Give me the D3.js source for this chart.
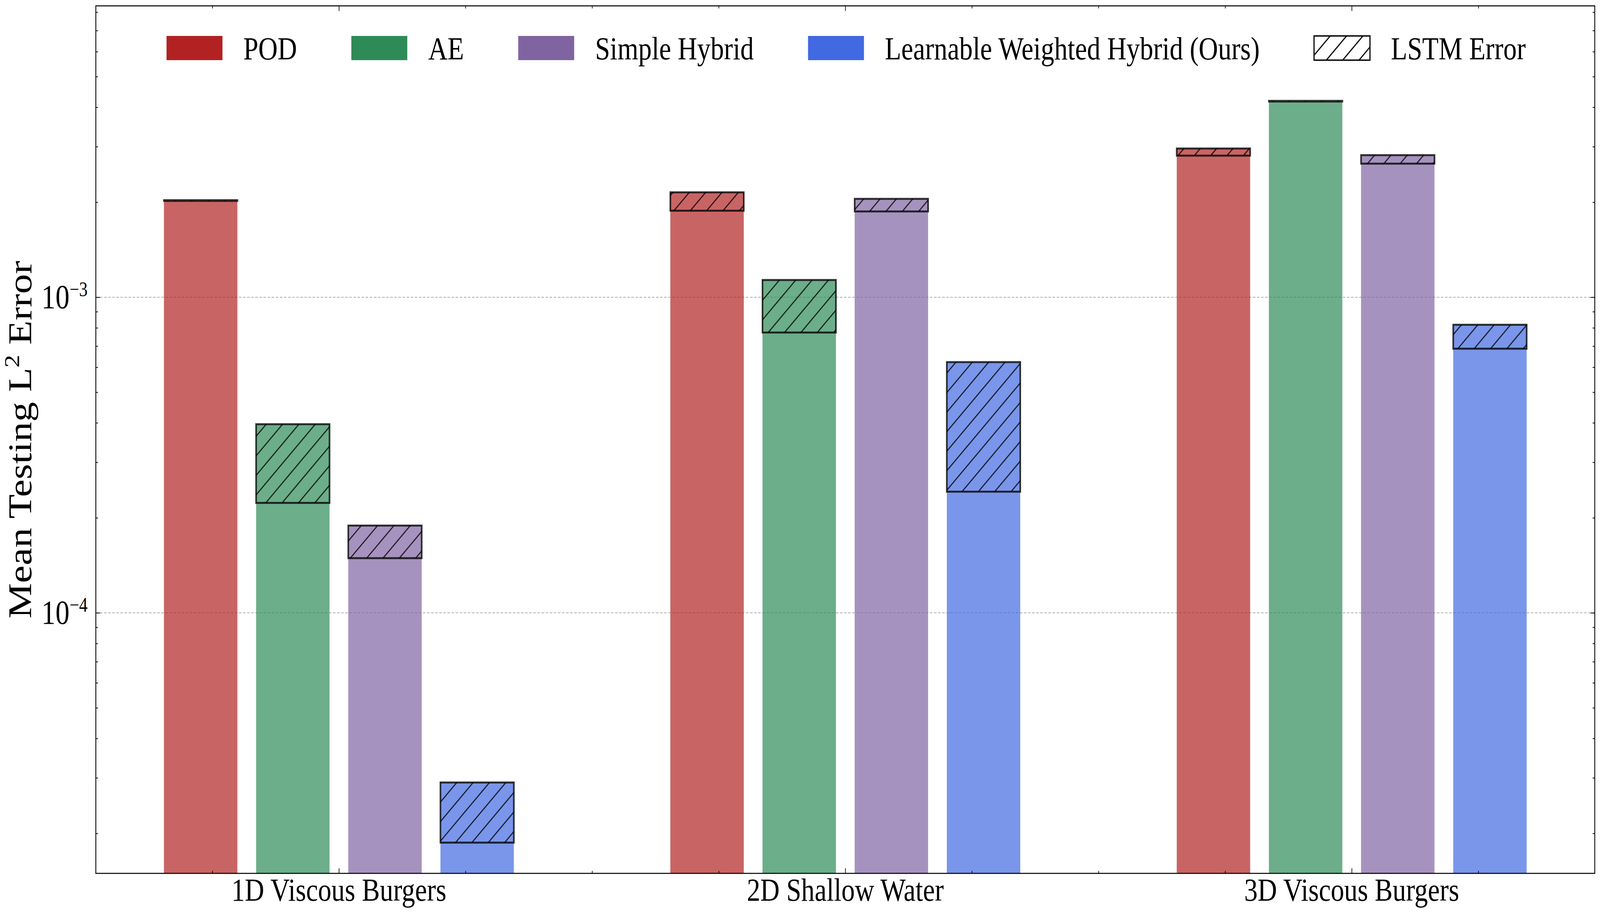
<!DOCTYPE html>
<html><head><meta charset="utf-8">
<script src="https://cdn.jsdelivr.net/npm/d3@7"></script>
<style>
html,body{margin:0;padding:0;background:#fff;overflow:hidden}
svg{display:block;width:100vw;height:100vh}
text{font-family:"Liberation Serif","DejaVu Serif",serif;fill:#000}
</style>
</head><body>
<svg id="chart" viewBox="0 0 4892 2340" preserveAspectRatio="none"></svg>
<script>
// ---------------- data ----------------
const categories = ["1D Viscous Burgers", "2D Shallow Water", "3D Viscous Burgers"];
const methods = ["POD", "AE", "Simple Hybrid", "Learnable Weighted Hybrid (Ours)"];
const methodColors = ["#b22222", "#2e8b57", "#8064a2", "#4169e1"];
// error without LSTM (solid part) and with LSTM (top of hatched part)
const podBase     = [2.02e-3, 1.88e-3, 2.81e-3];
const podTotal    = [2.03e-3, 2.15e-3, 2.96e-3];
const aeBase      = [2.23e-4, 7.73e-4, 4.17e-3];
const aeTotal     = [3.96e-4, 1.134e-3, 4.19e-3];
const simpleBase  = [1.49e-4, 1.87e-3, 2.65e-3];
const simpleTotal = [1.89e-4, 2.05e-3, 2.82e-3];
const lwhBase     = [1.87e-5, 2.42e-4, 6.87e-4];
const lwhTotal    = [2.90e-5, 6.23e-4, 8.18e-4];
const lstmLabel = "LSTM Error";
const yLimits = [1.494e-5, 8.38e-3];
const xLimits = [-0.48, 2.48];
const yMajorTicks = [1e-4, 1e-3];
const yMajorExponents = ["\u22124", "\u22123"];
const yMinorMantissas = [2, 3, 4, 5, 6, 7, 8, 9];
const yDecades = [1e-5, 1e-4, 1e-3];
const xMinorTicks = [-0.25, 0.25, 0.5, 0.75, 1.25, 1.5, 1.75, 2.25];

const baseSeries = [podBase, aeBase, simpleBase, lwhBase];
const totalSeries = [podTotal, aeTotal, simpleTotal, lwhTotal];

// ---------------- layout ----------------
const plot = {left: 293, right: 4876, top: 15, bottom: 2236};
const barWidth = 0.145, barStep = 0.182;
const FONT_TICK = 86, FONT_SUP = 52, FONT_X = 82, FONT_LEG = 82, FONT_YLAB = 102;

const svg = d3.select("#chart");
const x = d3.scaleLinear().domain(xLimits).range([plot.left, plot.right]);
const y = d3.scaleLog().domain(yLimits).range([plot.bottom, plot.top]);

const defs = svg.append("defs");
function hatchPattern(id, opacity, width) {
  const p = defs.append("pattern").attr("id", id)
    .attr("patternUnits", "userSpaceOnUse").attr("width", 50).attr("height", 50);
  p.append("path").attr("d", "M-10,60 L60,-10 M-10,10 L10,-10 M40,60 L60,40")
    .attr("stroke", "#000").attr("stroke-opacity", opacity)
    .attr("stroke-width", width).attr("fill", "none");
}
hatchPattern("hatch", 0.8, 3.2);
hatchPattern("hatchLeg", 1, 3.2);
defs.append("clipPath").attr("id", "plotClip").append("rect")
  .attr("x", plot.left).attr("y", plot.top)
  .attr("width", plot.right - plot.left).attr("height", plot.bottom - plot.top);

// gridlines
svg.append("g").selectAll("line").data(yMajorTicks).join("line")
  .attr("x1", plot.left).attr("x2", plot.right)
  .attr("y1", d => y(d)).attr("y2", d => y(d))
  .attr("stroke", "#b0b0b0").attr("stroke-width", 2)
  .attr("stroke-dasharray", "8,4.5");

// bars
const bars = svg.append("g").attr("clip-path", "url(#plotClip)");
methods.forEach((m, i) => {
  const offset = (i - 1.5) * barStep;
  categories.forEach((c, g) => {
    const x0 = x(g + offset - barWidth / 2);
    const w = x(g + offset + barWidth / 2) - x0;
    const yb = y(baseSeries[i][g]);
    const yt = y(totalSeries[i][g]);
    bars.append("rect").attr("x", x0).attr("y", yb).attr("width", w)
      .attr("height", plot.bottom - yb)
      .attr("fill", methodColors[i]).attr("fill-opacity", 0.7);
    const h = Math.max(yb - yt, 0.6);
    bars.append("rect").attr("x", x0).attr("y", yt).attr("width", w).attr("height", h)
      .attr("fill", methodColors[i]).attr("fill-opacity", 0.7);
    bars.append("rect").attr("x", x0).attr("y", yt).attr("width", w).attr("height", h)
      .attr("fill", "url(#hatch)")
      .attr("stroke", "#000").attr("stroke-opacity", 0.78).attr("stroke-width", 5);
  });
});

// axes ticks (inward on all sides)
const majLen = 13, minLen = 6.5;
const yMinor = [];
yDecades.forEach(d => yMinorMantissas.forEach(mm => {
  const v = d * mm;
  if (v > yLimits[0] && v < yLimits[1]) yMinor.push(v);
}));
function styleAxis(sel) {
  sel.select(".domain").remove();
  sel.selectAll("line").attr("stroke", "#000").attr("stroke-width", 2);
  sel.selectAll("text").remove();
}
svg.append("g").attr("transform", `translate(${plot.left},0)`)
  .call(d3.axisLeft(y).tickValues(yMajorTicks).tickSize(-majLen)).call(styleAxis);
svg.append("g").attr("transform", `translate(${plot.left},0)`)
  .call(d3.axisLeft(y).tickValues(yMinor).tickSize(-minLen)).call(styleAxis);
svg.append("g").attr("transform", `translate(${plot.right},0)`)
  .call(d3.axisRight(y).tickValues(yMajorTicks).tickSize(-majLen)).call(styleAxis);
svg.append("g").attr("transform", `translate(${plot.right},0)`)
  .call(d3.axisRight(y).tickValues(yMinor).tickSize(-minLen)).call(styleAxis);
svg.append("g").attr("transform", `translate(0,${plot.bottom})`)
  .call(d3.axisBottom(x).tickValues([0, 1, 2]).tickSize(-majLen)).call(styleAxis);
svg.append("g").attr("transform", `translate(0,${plot.bottom})`)
  .call(d3.axisBottom(x).tickValues(xMinorTicks).tickSize(-minLen)).call(styleAxis);
svg.append("g").attr("transform", `translate(0,${plot.top})`)
  .call(d3.axisTop(x).tickValues([0, 1, 2]).tickSize(-majLen)).call(styleAxis);
svg.append("g").attr("transform", `translate(0,${plot.top})`)
  .call(d3.axisTop(x).tickValues(xMinorTicks).tickSize(-minLen)).call(styleAxis);

// frame
svg.append("rect").attr("x", plot.left).attr("y", plot.top)
  .attr("width", plot.right - plot.left).attr("height", plot.bottom - plot.top)
  .attr("fill", "none").attr("stroke", "#000").attr("stroke-width", 2.6);

// y tick labels
yMajorTicks.forEach((v, k) => {
  const t = svg.append("text").attr("x", plot.left - 25).attr("y", y(v) + 28)
    .attr("text-anchor", "end").attr("font-size", FONT_TICK);
  t.append("tspan").text("10");
  t.append("tspan").attr("dy", -31).attr("font-size", FONT_SUP).text(yMajorExponents[k]);
});

// x tick labels
svg.append("g").selectAll("text").data(categories).join("text")
  .attr("x", (d, g) => x(g)).attr("y", plot.bottom + 70)
  .attr("text-anchor", "middle").attr("font-size", FONT_X).text(d => d);

// y label
const yl = svg.append("text").attr("transform", `translate(96,${(plot.top + plot.bottom) / 2}) rotate(-90)`)
  .attr("text-anchor", "middle").attr("font-size", FONT_YLAB);
yl.append("tspan").text("Mean Testing L");
yl.append("tspan").attr("dy", -38).attr("font-size", 66).text("2");
yl.append("tspan").attr("dy", 38).text("\u00a0Error");

// legend
const legItems = methods.map((m, i) => ({label: m, color: methodColors[i], hatch: false}))
  .concat([{label: lstmLabel, color: "#fff", hatch: true}]);
const patchW = 171, patchH = 62, patchGap = 64, colGap = 166, legTop = 92;
const leg = svg.append("g");
let cx = 0;
legItems.forEach(it => {
  const g = leg.append("g");
  if (it.hatch) {
    g.append("rect").attr("x", cx).attr("y", legTop).attr("width", patchW).attr("height", patchH)
      .attr("fill", "url(#hatchLeg)").attr("stroke", "#000").attr("stroke-width", 3.5);
  } else {
    g.append("rect").attr("x", cx).attr("y", legTop).attr("width", patchW).attr("height", patchH)
      .attr("fill", it.color);
  }
  const t = g.append("text").attr("x", cx + patchW + patchGap).attr("y", legTop + 60)
    .attr("font-size", FONT_LEG).text(it.label);
  cx += patchW + patchGap + t.node().getComputedTextLength() + colGap;
});
const legWidth = cx - colGap;
leg.attr("transform", `translate(${2587 - legWidth / 2},0)`);
</script>
</body></html>
